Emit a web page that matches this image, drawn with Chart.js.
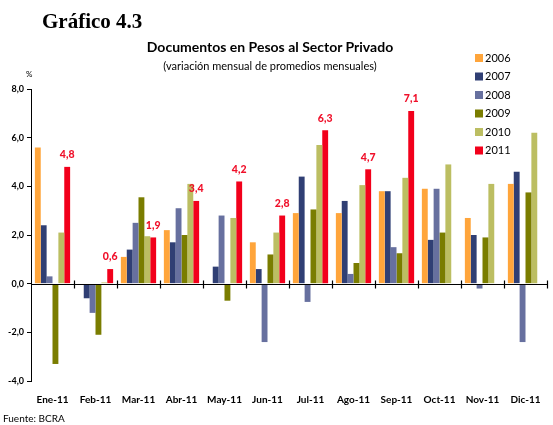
<!DOCTYPE html>
<html>
<head>
<meta charset="utf-8">
<script src="https://cdn.jsdelivr.net/npm/chart.js@4/dist/chart.umd.min.js"></script>
<style>
  body { margin: 0; background: #fff; }
  #wrap { position: relative; width: 553px; height: 425px; }
  canvas { position: absolute; left: 0; top: 0; }
  .txt { position: absolute; white-space: nowrap; color: #000; }
  #fig { left: 42px; top: 9px; font: bold 21px "Liberation Serif", serif; }
  #ttl { left: 0; width: 540px; text-align: center; top: 38px; font: bold 14px Lato, sans-serif; }
  #sub { left: 0; width: 540px; text-align: center; top: 59px; font: 11px Lato, sans-serif; }
  #pct { left: 26px; top: 69px; font: 8px Lato, sans-serif; }
  #src { left: 3px; top: 412px; font: 10px Lato, sans-serif; }
</style>
</head>
<body>
<div id="wrap">
  <canvas id="myChart" width="553" height="425"></canvas>
  <div class="txt" id="fig">Gráfico 4.3</div>
  <div class="txt" id="ttl">Documentos en Pesos al Sector Privado</div>
  <div class="txt" id="sub">(variación mensual de promedios mensuales)</div>
  <div class="txt" id="pct">%</div>
  <div class="txt" id="src">Fuente: BCRA</div>
</div>
<script>
const months = ['Ene-11', 'Feb-11', 'Mar-11', 'Abr-11', 'May-11', 'Jun-11', 'Jul-11', 'Ago-11', 'Sep-11', 'Oct-11', 'Nov-11', 'Dic-11'];
const years = ['2006', '2007', '2008', '2009', '2010', '2011'];
const colors = ['#FFA53B', '#303F74', '#67709F', '#7A7D00', '#BCBE62', '#F2001B'];

const v2006 = [5.6, 0, 1.1, 2.2, 0, 1.7, 2.9, 2.9, 3.8, 3.9, 2.7, 4.1];
const v2007 = [2.4, -0.6, 1.4, 1.7, 0.7, 0.6, 4.4, 3.4, 3.8, 1.8, 2.0, 4.6];
const v2008 = [0.3, -1.2, 2.5, 3.1, 2.8, -2.4, -0.75, 0.4, 1.5, 3.9, -0.2, -2.4];
const v2009 = [-3.3, -2.1, 3.55, 2.0, -0.7, 1.2, 3.05, 0.85, 1.25, 2.1, 1.9, 3.75];
const v2010 = [2.1, 0.05, 1.95, 4.1, 2.7, 2.1, 5.7, 4.05, 4.35, 4.9, 4.1, 6.2];
const v2011 = [4.8, 0.6, 1.9, 3.4, 4.2, 2.8, 6.3, 4.7, 7.1, null, null, null];
const series = [v2006, v2007, v2008, v2009, v2010, v2011];

const yTicks = [-4, -2, 0, 2, 4, 6, 8];

const fmt = (v) => v.toFixed(1).replace('.', ',');

const zeroAxis = {
  id: 'zeroAxis',
  afterDatasetsDraw(chart) {
    const { ctx, chartArea: a, scales: { y } } = chart;
    const y0 = Math.round(y.getPixelForValue(0)) + 0.5;
    ctx.save();
    ctx.strokeStyle = '#000';
    ctx.lineWidth = 1.2;
    ctx.beginPath();
    ctx.moveTo(a.left, y0);
    ctx.lineTo(a.right, y0);
    const step = (a.right - a.left) / months.length;
    for (let i = 1; i <= months.length; i++) {
      const x = Math.round(a.left + i * step) + 0.5;
      ctx.moveTo(x, y0 - 4);
      ctx.lineTo(x, y0 + 4);
    }
    ctx.stroke();
    ctx.restore();
  }
};

const redLabels = {
  id: 'redLabels',
  afterDatasetsDraw(chart) {
    const { ctx } = chart;
    const meta = chart.getDatasetMeta(5);
    ctx.save();
    ctx.fillStyle = '#F0102A';
    ctx.font = '900 10.5px Lato, sans-serif';
    ctx.textAlign = 'center';
    ctx.textBaseline = 'middle';
    meta.data.forEach((bar, i) => {
      const v = v2011[i];
      if (v === null) return;
      ctx.fillText(fmt(v), bar.x, bar.y - 12);
    });
    ctx.restore();
  }
};

const sideLegend = {
  id: 'sideLegend',
  afterDraw(chart) {
    const { ctx } = chart;
    ctx.save();
    ctx.font = '11px Lato, sans-serif';
    ctx.textBaseline = 'middle';
    years.forEach((yr, i) => {
      const yy = 58 + i * 18.5;
      ctx.fillStyle = colors[i];
      ctx.fillRect(475, yy - 4, 8, 8);
      ctx.fillStyle = '#000';
      ctx.fillText(yr, 485, yy);
    });
    ctx.restore();
  }
};

const ctx = document.getElementById('myChart').getContext('2d');

const chart = new Chart(ctx, {
  type: 'bar',
  data: {
    labels: months,
    datasets: years.map((yr, i) => ({
      label: yr,
      data: series[i],
      backgroundColor: colors[i],
      borderWidth: 0,
      barPercentage: 1.0,
      categoryPercentage: 0.82
    }))
  },
  options: {
    responsive: false,
    animation: false,
    layout: { padding: { top: 89, right: 6, left: 0, bottom: 0 } },
    plugins: {
      legend: { display: false },
      tooltip: { enabled: false }
    },
    scales: {
      x: {
        grid: { display: false },
        border: { display: false },
        ticks: {
          color: '#000',
          font: { family: 'Lato', weight: 'bold', size: 10 },
          padding: 5,
          maxRotation: 0,
          autoSkip: false
        },
        afterFit: (s) => { s.height = 44; }
      },
      y: {
        min: -4,
        max: 8,
        afterBuildTicks: (s) => { s.ticks = yTicks.map(v => ({ value: v })); },
        border: { color: '#000', width: 1 },
        grid: { drawOnChartArea: false, tickLength: 4, color: '#000' },
        ticks: {
          color: '#000',
          font: { family: 'Lato', weight: 'bold', size: 9 },
          padding: 3,
          callback: (v) => fmt(v)
        },
        afterFit: (s) => { s.width = 31; }
      }
    }
  },
  plugins: [zeroAxis, redLabels, sideLegend]
});
</script>
</body>
</html>
